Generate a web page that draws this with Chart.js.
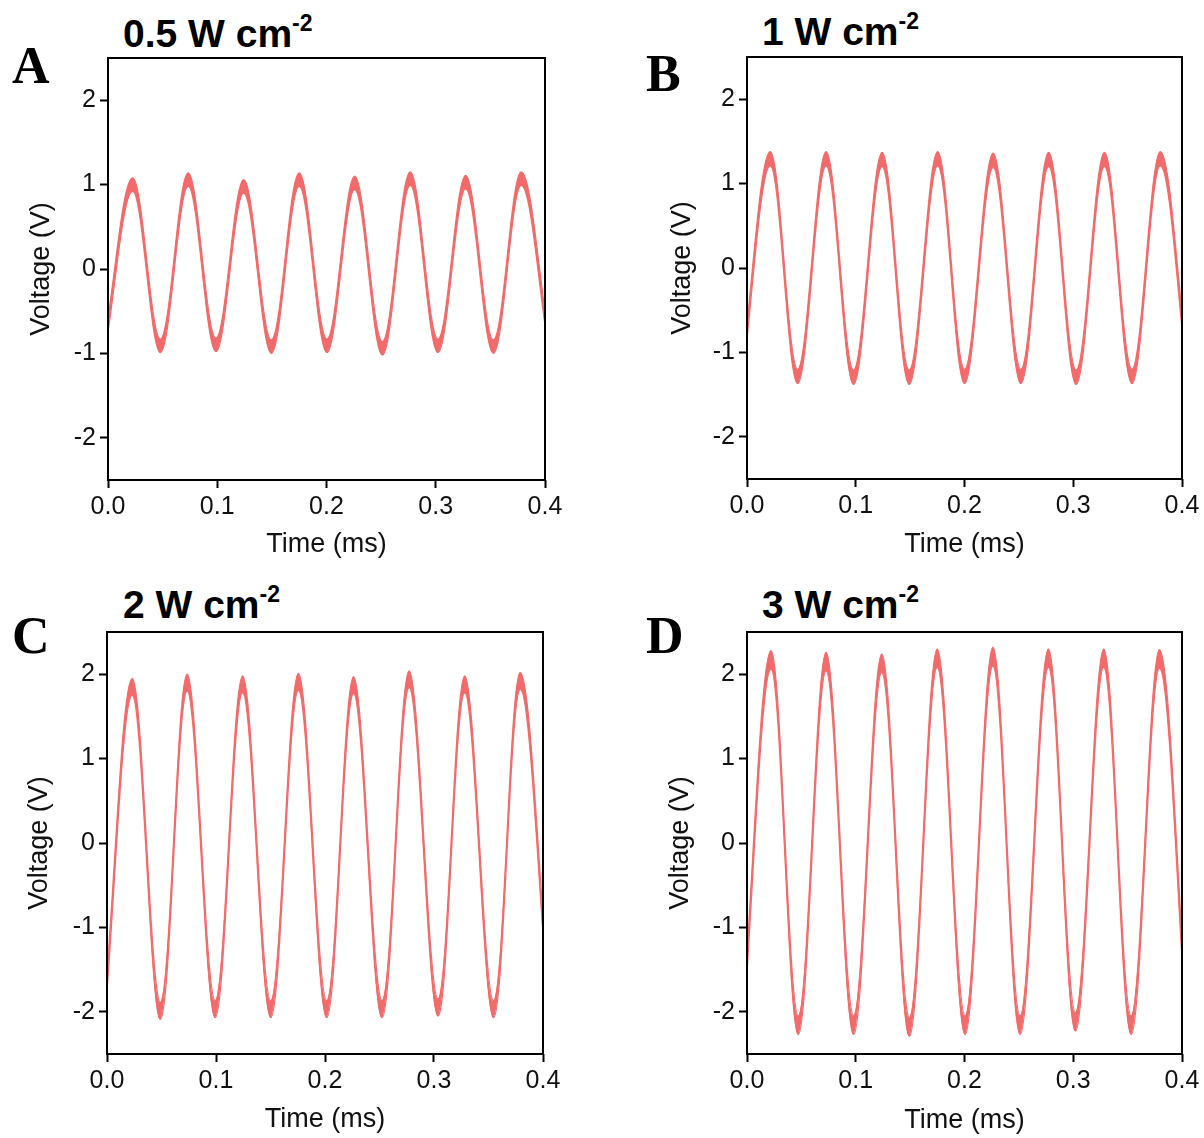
<!DOCTYPE html>
<html>
<head>
<meta charset="utf-8">
<script src="https://cdn.jsdelivr.net/npm/chart.js@4.4.1/dist/chart.umd.min.js"></script>
<style>
    body { margin: 0; background: #fff; width: 1204px; height: 1138px; position: relative; overflow: hidden; font-family: 'Liberation Sans', Arial, sans-serif; color: #000; }
    .panel { position: absolute; }
    .panel canvas { display: block; }
    .letra { position: absolute; font-family: 'Liberation Serif', 'Times New Roman', serif; font-weight: bold; font-size: 52px; line-height: 1; }
    .titulo { position: absolute; font-weight: bold; font-size: 39px; line-height: 1; white-space: nowrap; }
    .titulo span { font-size: 23px; position: relative; top: -16px; }
</style>
</head>
<body>
<div class="letra" style="left:12px; top:40px;">A</div>
<div class="letra" style="left:646px; top:48px;">B</div>
<div class="letra" style="left:12px; top:610px;">C</div>
<div class="letra" style="left:646px; top:610px;">D</div>
<div class="titulo" style="left:123px; top:14px;">0.5 W cm<span>-2</span></div>
<div class="titulo" style="left:762px; top:12px;">1 W cm<span>-2</span></div>
<div class="titulo" style="left:123px; top:585px;">2 W cm<span>-2</span></div>
<div class="titulo" style="left:762px; top:585px;">3 W cm<span>-2</span></div>
<script>
// Ejes comunes
const ticksX = [0, 0.1, 0.2, 0.3, 0.4];
const etiquetasX = ['0.0', '0.1', '0.2', '0.3', '0.4'];
const ticksY = [-2, -1, 0, 1, 2];
const etiquetasY = ['-2', '-1', '0', '1', '2'];

// Valles y picos de cada traza (ms). El primer y el ultimo punto caen fuera del eje.
// superior/inferior = borde de arriba y de abajo de la banda de ruido en cada extremo.
const tiemposA = [-0.0028, 0.0226, 0.0480, 0.0734, 0.0988, 0.1242, 0.1496, 0.1750, 0.2004, 0.2258, 0.2512, 0.2766, 0.3020, 0.3274, 0.3528, 0.3782, 0.4036];
const superiorA = [-0.82, 1.08, -0.83, 1.14, -0.82, 1.06, -0.84, 1.14, -0.83, 1.10, -0.86, 1.15, -0.83, 1.11, -0.84, 1.15, -0.82];
const inferiorA = [-0.98, 0.92, -0.99, 0.98, -0.98, 0.90, -1.00, 0.98, -0.99, 0.94, -1.02, 0.99, -0.99, 0.95, -1.00, 0.99, -0.98];

const tiemposB = [-0.0046, 0.0214, 0.0466, 0.0727, 0.0980, 0.1242, 0.1492, 0.1753, 0.2001, 0.2263, 0.2519, 0.2774, 0.3027, 0.3287, 0.3540, 0.3800, 0.4054];
const superiorB = [-1.19, 1.38, -1.20, 1.38, -1.21, 1.37, -1.21, 1.38, -1.20, 1.36, -1.20, 1.37, -1.21, 1.37, -1.20, 1.38, -1.19];
const inferiorB = [-1.36, 1.21, -1.37, 1.21, -1.38, 1.20, -1.38, 1.21, -1.37, 1.19, -1.37, 1.20, -1.38, 1.20, -1.37, 1.21, -1.36];

const tiemposC = [-0.0019, 0.0232, 0.0490, 0.0735, 0.0993, 0.1244, 0.1503, 0.1756, 0.2016, 0.2262, 0.2524, 0.2772, 0.3037, 0.3282, 0.3547, 0.3791, 0.4058];
const superiorC = [-1.86, 1.95, -1.89, 2.00, -1.87, 1.98, -1.87, 2.01, -1.87, 1.97, -1.87, 2.04, -1.85, 1.98, -1.87, 2.02, -1.86];
const inferiorC = [-2.06, 1.75, -2.09, 1.80, -2.07, 1.78, -2.07, 1.81, -2.07, 1.77, -2.07, 1.84, -2.05, 1.78, -2.07, 1.82, -2.06];

const tiemposD = [-0.0038, 0.0221, 0.0472, 0.0727, 0.0981, 0.1239, 0.1494, 0.1749, 0.2006, 0.2261, 0.2512, 0.2771, 0.3021, 0.3280, 0.3533, 0.3792, 0.4045];
const superiorD = [-2.03, 2.28, -2.05, 2.26, -2.05, 2.24, -2.07, 2.30, -2.05, 2.32, -2.05, 2.30, -2.01, 2.30, -2.05, 2.29, -2.03];
const inferiorD = [-2.25, 2.06, -2.27, 2.04, -2.27, 2.02, -2.29, 2.08, -2.27, 2.10, -2.27, 2.08, -2.23, 2.08, -2.27, 2.07, -2.25];

const colorTraza = 'rgb(243, 106, 106)';
const fuenteTicks = { family: "'Liberation Sans', Arial, sans-serif", size: 25 };
const fuenteTitulo = { family: "'Liberation Sans', Arial, sans-serif", size: 27 };
const mitadLinea = 1.2 * 27 / 2;

const paneles = [
    { tiempos: tiemposA, superior: superiorA, inferior: inferiorA, caja: { x: 0, y: 0, w: 600, h: 580 }, area: { left: 108, top: 58, right: 545, bottom: 480 }, tituloY: 42, tituloX: 35 },
    { tiempos: tiemposB, superior: superiorB, inferior: inferiorB, caja: { x: 640, y: 0, w: 564, h: 580 }, area: { left: 747, top: 57, right: 1182, bottom: 479 }, tituloY: 43, tituloX: 35 },
    { tiempos: tiemposC, superior: superiorC, inferior: inferiorC, caja: { x: 0, y: 575, w: 600, h: 563 }, area: { left: 107, top: 632, right: 543, bottom: 1054 }, tituloY: 40, tituloX: 18 },
    { tiempos: tiemposD, superior: superiorD, inferior: inferiorD, caja: { x: 640, y: 575, w: 564, h: 563 }, area: { left: 747, top: 632, right: 1182, bottom: 1054 }, tituloY: 41, tituloX: 17 }
];

// Marco completo alrededor del area de la grafica
const marco = {
    id: 'marco',
    afterDraw(chart) {
        const { ctx, chartArea: a } = chart;
        ctx.save();
        ctx.strokeStyle = '#000';
        ctx.lineWidth = 2;
        ctx.strokeRect(a.left, a.top, a.right - a.left, a.bottom - a.top);
        ctx.restore();
    }
};

function puntos(tiempos, valores) {
    return tiempos.map((t, i) => ({ x: t, y: valores[i] }));
}

function crearPanel(p) {
    const div = document.createElement('div');
    div.className = 'panel';
    div.style.left = p.caja.x + 'px';
    div.style.top = p.caja.y + 'px';
    const canvas = document.createElement('canvas');
    canvas.width = p.caja.w;
    canvas.height = p.caja.h;
    div.appendChild(canvas);
    document.body.appendChild(div);

    const anchoEjeY = p.area.left - p.caja.x;
    const altoEjeX = p.caja.y + p.caja.h - p.area.bottom;
    const rejilla = { display: true, drawOnChartArea: false, drawTicks: true, tickLength: 8, tickWidth: 2, tickColor: '#000' };

    new Chart(canvas, {
        type: 'line',
        data: {
            datasets: [
                { data: puntos(p.tiempos, p.superior), borderColor: colorTraza, backgroundColor: colorTraza, borderWidth: 1.3, fill: false },
                { data: puntos(p.tiempos, p.inferior), borderColor: colorTraza, backgroundColor: colorTraza, borderWidth: 1.3, fill: '-1' }
            ]
        },
        options: {
            responsive: false,
            animation: false,
            devicePixelRatio: 1,
            layout: { padding: { left: 0, bottom: 0, top: p.area.top - p.caja.y, right: p.caja.x + p.caja.w - p.area.right } },
            plugins: { legend: { display: false }, tooltip: { enabled: false } },
            elements: { point: { radius: 0 }, line: { tension: 0.36, capBezierPoints: false } },
            scales: {
                x: {
                    type: 'linear', min: 0, max: 0.4,
                    afterBuildTicks: (eje) => { eje.ticks = ticksX.map((v) => ({ value: v })); },
                    afterFit: (eje) => { eje.height = altoEjeX; eje.paddingLeft = 0; eje.paddingRight = 0; },
                    ticks: { callback: (v, i) => etiquetasX[i], font: fuenteTicks, color: '#111', padding: 4, maxRotation: 0, autoSkip: false },
                    grid: rejilla,
                    border: { display: false },
                    title: { display: true, text: 'Time (ms)', font: fuenteTitulo, color: '#111', padding: { top: 0, bottom: p.tituloX - mitadLinea } }
                },
                y: {
                    type: 'linear', min: -2.5, max: 2.5,
                    afterBuildTicks: (eje) => { eje.ticks = ticksY.map((v) => ({ value: v })); },
                    afterFit: (eje) => { eje.width = anchoEjeY; eje.paddingTop = 0; eje.paddingBottom = 0; },
                    ticks: { callback: (v, i) => etiquetasY[i], font: fuenteTicks, color: '#111', padding: 4, autoSkip: false },
                    grid: rejilla,
                    border: { display: false },
                    title: { display: true, text: 'Voltage (V)', font: fuenteTitulo, color: '#111', padding: { top: p.tituloY - mitadLinea, bottom: 0 } }
                }
            }
        },
        plugins: [marco]
    });
}

paneles.forEach(crearPanel);
</script>
</body>
</html>
